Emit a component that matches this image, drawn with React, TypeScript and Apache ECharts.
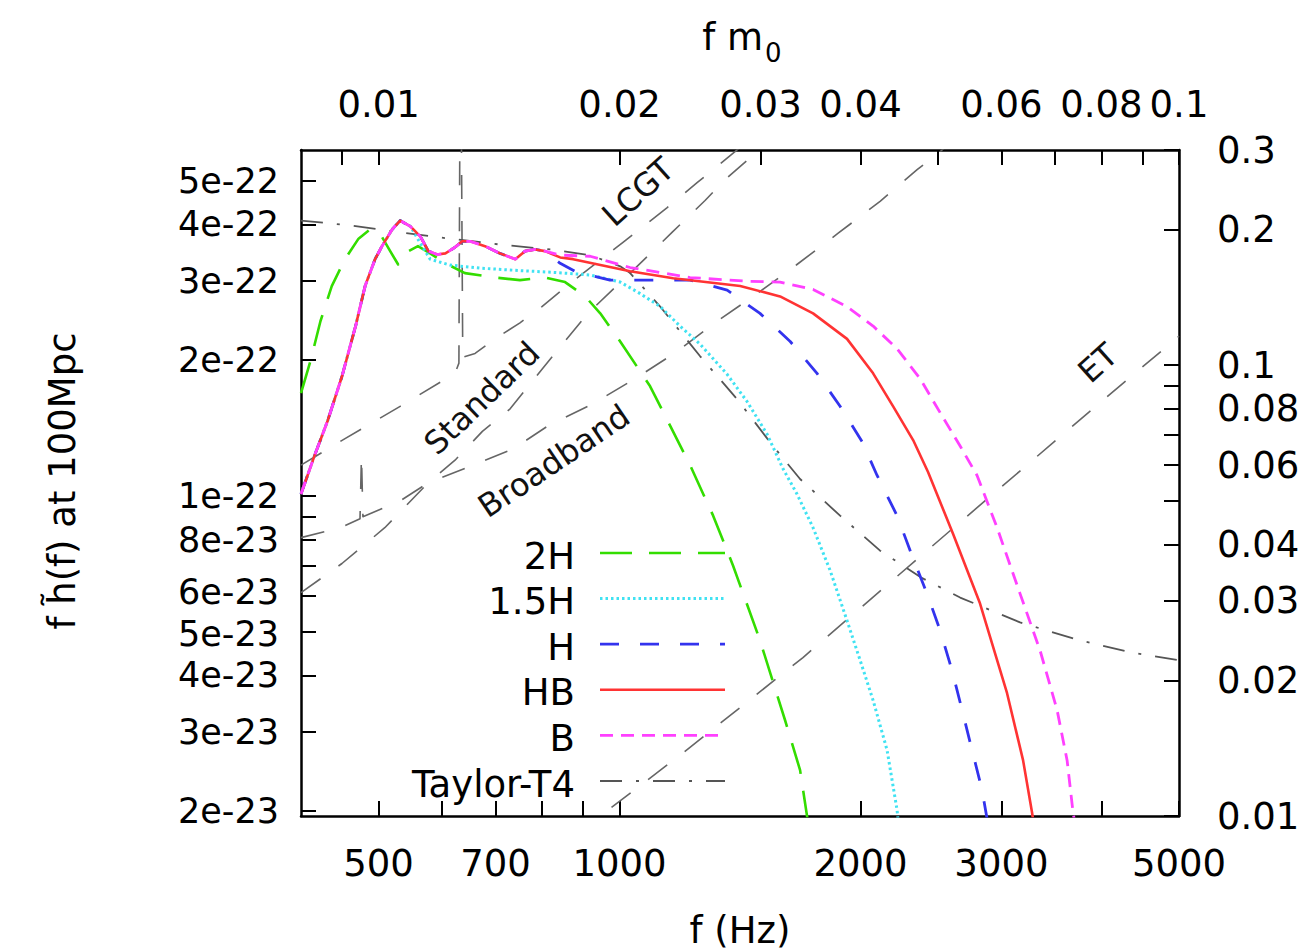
import React, { useEffect, useRef } from "react";
import * as echarts from "echarts";

// ---- axes ---------------------------------------------------------------
const FONT = '"DejaVu Sans", "Liberation Sans", sans-serif';
const HZ_TO_FM0 = 2e-5; // top axis: f m0 = f[Hz] * 2e-5
const F_MIN = 400;
const F_MAX = 5000;
const H_MIN = 1.95e-23;
const H_MAX = 5.85e-22;
const R_MIN = 0.01;
const R_MAX = 0.3;
const E22 = 1e-22; // amplitudes below are listed in units of 1e-22

const fTicks = [500, 600, 700, 800, 900, 1000, 2000, 3000, 4000, 5000];
const fLabels = [500, 700, 1000, 2000, 3000, 5000];
const fm0Ticks = [0.009, 0.01, 0.02, 0.03, 0.04, 0.05, 0.06, 0.07, 0.08, 0.09, 0.1];
const fm0Labels = [0.01, 0.02, 0.03, 0.04, 0.06, 0.08, 0.1];
const hTicks = [2e-23, 3e-23, 4e-23, 5e-23, 6e-23, 7e-23, 8e-23, 9e-23, 1e-22, 2e-22, 3e-22, 4e-22, 5e-22];
const hLabels = [2e-23, 3e-23, 4e-23, 5e-23, 6e-23, 8e-23, 1e-22, 2e-22, 3e-22, 4e-22, 5e-22];
const rTicks = [0.01, 0.02, 0.03, 0.04, 0.05, 0.06, 0.07, 0.08, 0.09, 0.1, 0.2, 0.3];
const rLabels = [0.01, 0.02, 0.03, 0.04, 0.06, 0.08, 0.1, 0.2, 0.3];

// ---- waveforms: f (Hz) and f*h(f) at 100 Mpc (x1e-22) -------------------
// shared early inspiral rise and wiggles (H, HB, B, 1.5H)
const riseF = [400, 416, 432, 450, 468, 481, 495, 505, 520, 532, 548];
const riseH = [1.01, 1.23, 1.47, 1.84, 2.38, 2.92, 3.35, 3.58, 3.9, 4.08, 3.96];
const wiggleF = [564, 577, 592, 606, 623, 636, 651, 679, 709, 741, 762, 785, 807];
const wiggleH = [3.76, 3.49, 3.43, 3.45, 3.56, 3.67, 3.67, 3.58, 3.45, 3.35, 3.49, 3.52, 3.49];

const hbTailF = [843, 875, 1031, 1167, 1415, 1587, 1745, 1924, 2074, 2197, 2327, 2429, 2610, 2821, 3049, 3193, 3277, 3314];
const hbTailH = [3.38, 3.35, 3.15, 3.04, 2.92, 2.77, 2.54, 2.23, 1.87, 1.58, 1.33, 1.13, 0.824, 0.577, 0.365, 0.259, 0.198, 0.1725];

const bTailF = [843, 919, 1031, 1225, 1456, 1587, 1745, 1924, 2074, 2222, 2374, 2515, 2664, 2797, 2963, 3165, 3353, 3521, 3624, 3687, 3740];
const bTailH = [3.42, 3.4, 3.21, 3.05, 2.99, 2.98, 2.87, 2.63, 2.38, 2.12, 1.82, 1.53, 1.29, 1.11, 0.85, 0.607, 0.454, 0.335, 0.259, 0.198, 0.1725];

const hTailF = [843, 879, 973, 1092, 1225, 1363, 1498, 1634, 1765, 1886, 2009, 2098, 2222, 2320, 2422, 2515, 2603, 2679, 2757, 2837, 2895];
const hTailH = [3.28, 3.15, 3.01, 3.01, 3.01, 2.86, 2.54, 2.2, 1.87, 1.58, 1.32, 1.11, 0.904, 0.737, 0.607, 0.503, 0.41, 0.335, 0.273, 0.223, 0.1815];

const h15TailF = [564, 580, 614, 669, 751, 831, 919, 1002, 1061, 1124, 1190, 1261, 1363, 1443, 1529, 1600, 1666, 1745, 1833, 1924, 1998, 2074, 2159, 2222, 2235];
const h15TailH = [3.63, 3.35, 3.25, 3.2, 3.16, 3.13, 3.09, 2.98, 2.81, 2.63, 2.38, 2.17, 1.86, 1.62, 1.37, 1.15, 1.01, 0.85, 0.683, 0.529, 0.432, 0.352, 0.273, 0.201, 0.1815];

const h2F = [400, 411, 423, 437, 454, 472, 488, 502, 517, 529, 545, 560, 580, 606, 641, 699, 751, 807, 855, 906, 946, 1002, 1092, 1157, 1225, 1309, 1386, 1498, 1610, 1681, 1715, 1730];
const h2H = [1.69, 1.99, 2.44, 2.92, 3.35, 3.72, 3.9, 3.82, 3.49, 3.26, 3.49, 3.58, 3.45, 3.28, 3.12, 3.05, 3.01, 3.05, 2.98, 2.77, 2.54, 2.2, 1.75, 1.43, 1.17, 0.904, 0.701, 0.478, 0.318, 0.2465, 0.195, 0.177];

const t4F = [400, 461, 532, 614, 709, 819, 919, 1002, 1031, 1124, 1261, 1402, 1550, 1681, 1886, 2116, 2381, 2664, 3165, 3761, 4342, 5000];
const t4H = [4.08, 3.98, 3.84, 3.72, 3.61, 3.52, 3.42, 3.23, 3.12, 2.63, 2.04, 1.64, 1.3, 1.09, 0.904, 0.756, 0.659, 0.595, 0.524, 0.478, 0.45, 0.432];

// ---- detector noise, sqrt(f S_h(f)) (x1e-22) ----------------------------
const lcgtF = [400, 454, 532, 623, 630, 632, 634, 637, 660, 699, 751, 800, 867, 1010, 1147, 1250, 1394, 1435];
const lcgtH = [1.17, 1.34, 1.58, 1.87, 1.97, 8.0, 8.0, 2.03, 2.07, 2.23, 2.42, 2.63, 2.96, 3.65, 4.36, 4.95, 5.8, 6.07];
const standardF = [400, 450, 509, 577, 623, 674, 730, 802, 913, 1031, 1163, 1279, 1355, 1486, 1529];
const standardH = [0.61, 0.708, 0.85, 1.07, 1.2, 1.39, 1.56, 1.92, 2.54, 3.12, 3.84, 4.52, 5.03, 5.8, 6.1];
const broadbandF = [400, 448, 474, 476, 478, 532, 577, 641, 736, 814, 926, 1046, 1180, 1324, 1486, 1666, 1874, 2116, 2354, 2515, 2588];
const broadbandH = [0.808, 0.85, 0.89, 1.23, 0.899, 0.975, 1.07, 1.15, 1.27, 1.43, 1.6, 1.82, 2.09, 2.44, 2.81, 3.26, 3.82, 4.5, 5.29, 5.8, 6.07];
const etF = [879, 946, 1200, 1695, 2588, 3983, 5000];
const etH = [0.177, 0.195, 0.269, 0.438, 0.837, 1.61, 2.26];

const lg = Math.log10;
const pairs = (fs: number[], hs: number[]) => fs.map((f, i) => [lg(f), lg(hs[i] * E22)]);

type Style = { color: string; width: number; dash: number[] | "solid" };
const styles: Record<string, Style> = {
  "2H": { color: "#33dd00", width: 2.6, dash: [32, 17] },
  "1.5H": { color: "#40e2f2", width: 3, dash: [2.5, 3] },
  H: { color: "#3333ee", width: 2.8, dash: [19, 21] },
  HB: { color: "#ff3333", width: 2.6, dash: "solid" },
  B: { color: "#ff40ff", width: 2.8, dash: [13, 8] },
  "Taylor-T4": { color: "#555555", width: 1.8, dash: [22, 14, 3, 14] },
  noise: { color: "#666666", width: 1.6, dash: [24, 22] },
};

function lineSeries(name: string, data: number[][], st: Style, z: number) {
  return {
    type: "line",
    name,
    data,
    xAxisIndex: 0,
    yAxisIndex: 0,
    showSymbol: false,
    symbol: "none",
    clip: true,
    silent: true,
    z,
    lineStyle: { color: st.color, width: st.width, type: st.dash, cap: "butt", join: "round" },
  };
}

const tickLine = { color: "#000", width: 2 };
const frameLine = { show: true, onZero: false, lineStyle: { color: "#000", width: 2.5 } };
const labelText = { color: "#000", fontSize: 37, fontFamily: FONT };
const fmtPlain = (v: number) => String(Number(Math.pow(10, v).toPrecision(2)));

// left-axis labels: 6e-23 and 5e-23 sit very close, so nudge them apart slightly
const leftRich = {
  up: { color: "#000", fontSize: 35, fontFamily: FONT, padding: [0, 0, 8, 0] },
  dn: { color: "#000", fontSize: 35, fontFamily: FONT, padding: [4, 0, 0, 0] },
};
const fmtExp = (v: number) => {
  const s = Math.pow(10, v).toExponential(0);
  if (s === "6e-23") return `{up|${s}}`;
  if (s === "5e-23") return `{dn|${s}}`;
  return s;
};

export default function App() {
  const ref = useRef<HTMLDivElement>(null);

  useEffect(() => {
    if (!ref.current) return;
    const chart = echarts.init(ref.current, undefined, { renderer: "svg" });

    const legendRows = ["2H", "1.5H", "H", "HB", "B", "Taylor-T4"];
    const legendGraphics: any[] = [];
    legendRows.forEach((name, i) => {
      const y = 553 + i * 45.6;
      const st = styles[name];
      legendGraphics.push({
        type: "text",
        x: 575,
        y: y + 3,
        style: { text: name, fill: "#000", fontSize: 37, fontFamily: FONT, align: "right", verticalAlign: "middle" },
      });
      legendGraphics.push({
        type: "line",
        shape: { x1: 600, y1: y, x2: 725, y2: y },
        style: { stroke: st.color, lineWidth: st.width, lineDash: st.dash === "solid" ? null : st.dash },
      });
    });

    const curveLabel = (text: string, x: number, y: number, deg: number) => ({
      type: "text",
      x,
      y,
      rotation: (deg * Math.PI) / 180,
      style: { text, fill: "#111", fontSize: 32, fontFamily: FONT, align: "center", verticalAlign: "middle" },
    });

    const option: any = {
      animation: false,
      backgroundColor: "#fff",
      grid: { left: 301, right: 133, top: 150, bottom: 136, containLabel: false, outerBoundsMode: "none" },
      xAxis: [
        {
          type: "value",
          position: "bottom",
          min: lg(F_MIN),
          max: lg(F_MAX),
          axisLine: frameLine,
          axisTick: { show: true, inside: true, length: 15, lineStyle: tickLine, customValues: fTicks.map(lg) },
          axisLabel: { ...labelText, margin: 29, customValues: fLabels.map(lg), formatter: (v: number) => String(Math.round(Math.pow(10, v))) },
          splitLine: { show: false },
        },
        {
          type: "value",
          position: "top",
          min: lg(F_MIN * HZ_TO_FM0),
          max: lg(F_MAX * HZ_TO_FM0),
          axisLine: frameLine,
          axisTick: { show: true, inside: true, length: 15, lineStyle: tickLine, customValues: fm0Ticks.map(lg) },
          axisLabel: { ...labelText, margin: 27, customValues: fm0Labels.map(lg), formatter: fmtPlain },
          splitLine: { show: false },
        },
      ],
      yAxis: [
        {
          type: "value",
          position: "left",
          min: lg(H_MIN),
          max: lg(H_MAX),
          axisLine: frameLine,
          axisTick: { show: true, inside: true, length: 15, lineStyle: tickLine, customValues: hTicks.map(lg) },
          axisLabel: {
            ...labelText,
            fontSize: 35,
            margin: 22,
            rich: leftRich,
            customValues: hLabels.map(lg),
            formatter: fmtExp,
          },
          splitLine: { show: false },
        },
        {
          type: "value",
          position: "right",
          min: lg(R_MIN),
          max: lg(R_MAX),
          axisLine: frameLine,
          axisTick: { show: true, inside: true, length: 15, lineStyle: tickLine, customValues: rTicks.map(lg) },
          axisLabel: { ...labelText, margin: 38, customValues: rLabels.map(lg), formatter: fmtPlain },
          splitLine: { show: false },
        },
      ],
      series: [
        lineSeries("Standard", pairs(standardF, standardH), styles.noise, 1),
        lineSeries("Broadband", pairs(broadbandF, broadbandH), styles.noise, 1),
        lineSeries("LCGT", pairs(lcgtF, lcgtH), styles.noise, 1),
        lineSeries("ET", pairs(etF, etH), styles.noise, 1),
        lineSeries("Taylor-T4", pairs(t4F, t4H), styles["Taylor-T4"], 2),
        lineSeries("2H", pairs(h2F, h2H), styles["2H"], 3),
        lineSeries("1.5H", pairs([...riseF, ...h15TailF], [...riseH, ...h15TailH]), styles["1.5H"], 3),
        lineSeries("H", pairs([...riseF, ...wiggleF, ...hTailF], [...riseH, ...wiggleH, ...hTailH]), styles.H, 3),
        lineSeries("HB", pairs([...riseF, ...wiggleF, ...hbTailF], [...riseH, ...wiggleH, ...hbTailH]), styles.HB, 3),
        lineSeries("B", pairs([...riseF, ...wiggleF, ...bTailF], [...riseH, ...wiggleH, ...bTailH]), styles.B, 3),
      ],
      graphic: [
        // axis titles
        {
          type: "text",
          x: 740,
          y: 930,
          style: { text: "f (Hz)", fill: "#000", fontSize: 37, fontFamily: FONT, align: "center", verticalAlign: "middle" },
        },
        {
          type: "text",
          x: 763,
          y: 37,
          style: { text: "f m", fill: "#000", fontSize: 37, fontFamily: FONT, align: "right", verticalAlign: "middle" },
        },
        {
          type: "text",
          x: 765,
          y: 53,
          style: { text: "0", fill: "#000", fontSize: 26, fontFamily: FONT, align: "left", verticalAlign: "middle" },
        },
        {
          type: "text",
          x: 62,
          y: 481,
          rotation: Math.PI / 2,
          style: { text: "f h\u0303(f) at 100Mpc", fill: "#000", fontSize: 37, fontFamily: FONT, align: "center", verticalAlign: "middle" },
        },
        // detector labels
        curveLabel("LCGT", 638, 192, 42),
        curveLabel("Standard", 482, 398, 44),
        curveLabel("Broadband", 554, 461, 34),
        curveLabel("ET", 1098, 363, 42),
        ...legendGraphics,
      ],
    };

    chart.setOption(option);
    return () => chart.dispose();
  }, []);

  return (
    <div
      ref={ref}
      style={{ position: "fixed", left: 0, top: 0, width: 1312, height: 952, background: "#fff" }}
    />
  );
}
